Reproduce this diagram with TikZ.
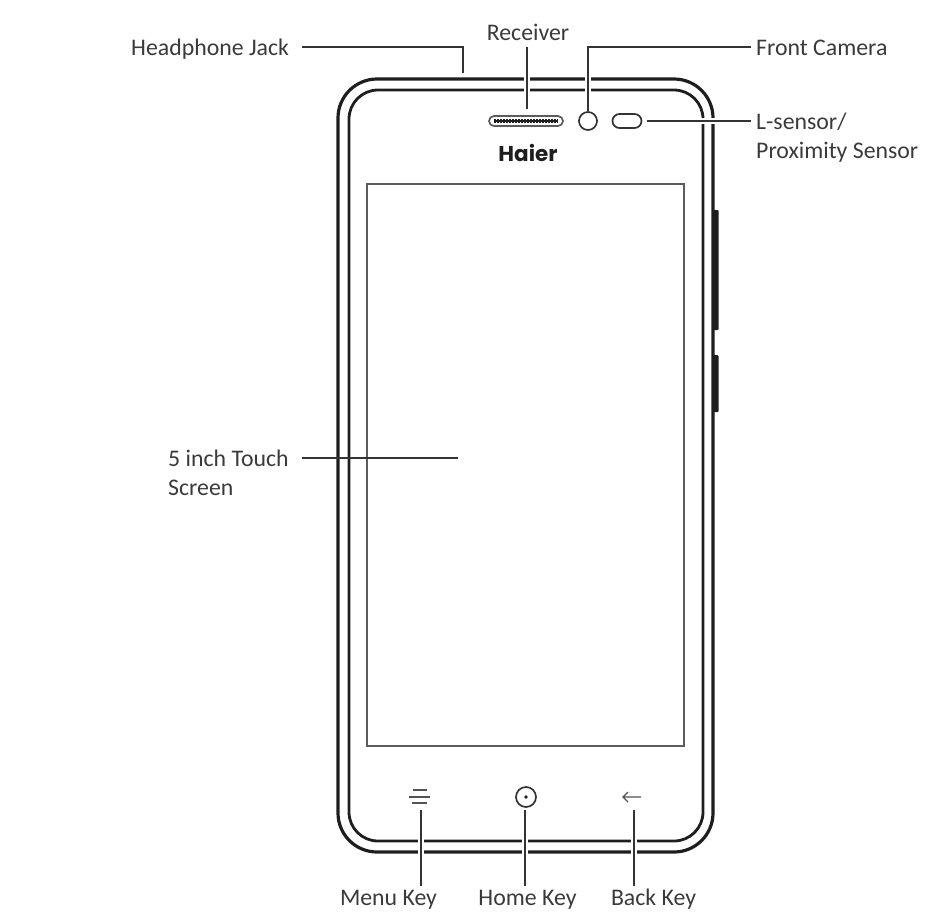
\documentclass[tikz,border=0pt]{standalone}
\usepackage{fontspec}
\setmainfont{Carlito}
\newfontfamily\logofont{Poppins}
\definecolor{ink}{HTML}{1E1E1E}
\definecolor{txt}{HTML}{3A3A3A}
\definecolor{lead}{HTML}{333333}
\tikzset{
  x=1pt,y=-1pt,
  label text/.style={font=\fontsize{23.8}{29.5}\selectfont,text=txt,inner sep=0pt,align=left},
  body line/.style={draw=ink,line width=3.2pt,rounded corners=39pt},
  inner line/.style={draw=ink,line width=2.8pt,rounded corners=29pt},
  leader/.style={draw=lead,line width=1.5pt},
  halo/.style={draw=white,line width=6.5pt},
  part/.style={draw=lead,line width=1.7pt,inner sep=0pt},
}
\begin{document}
\begin{tikzpicture}
\useasboundingbox (0,0) rectangle (929,922);
% side keys
\fill[ink,rounded corners=1pt] (712,210) rectangle (718.5,330);
\fill[ink,rounded corners=1pt] (712,355) rectangle (718.5,412);
% body
\draw[body line] (338,79) rectangle (713,852);
\draw[inner line] (349,90) rectangle (703,841);
% screen
\node[draw=lead!80,line width=1.6pt,minimum width=317pt,minimum height=562pt,inner sep=0pt] (screen) at (525.5,465) {};
% top parts
\node[part,minimum width=74pt,minimum height=10pt,rounded corners=5pt,draw=lead!80,fill=white] (receiver) at (526,121) {};
\draw[ink,line width=4pt,dash pattern=on 2pt off 1pt] (494,121) -- (558,121);
\draw[ink,line width=1.4pt] (494,121) -- (558,121);
\node[part,circle,minimum size=18pt] (camera) at (588,121) {};
\node[part,minimum width=29pt,minimum height=14pt,rounded corners=7pt] (sensor) at (627,121) {};
\node[font=\logofont\bfseries\fontsize{21.5}{24}\selectfont,text=ink,inner sep=0pt] (logo) at (528,153) {Haier};
% bottom keys
\coordinate (menu) at (421,810);
\draw[draw=lead!85,line width=1.3pt] (413,790) -- (427,790) (409,797) -- (430,797) (412,803) -- (427,803);
\node[part,circle,minimum size=20pt] (home) at (526,797) {};
\fill[ink] (home.center) circle (1.8);
\coordinate (back) at (641,797);
\draw[draw=lead!85,line width=1.2pt] (back) -- (623,797) (628,792) -- (623,797) -- (628,802);
\coordinate (backend) at (634,810);
% labels
\node[label text,anchor=base west] (lhead) at (131,55) {Headphone Jack};
\node[label text,anchor=base] (lrecv) at (528,40) {Receiver};
\node[label text,anchor=base west] (lcam) at (756,55) {Front Camera};
\node[label text,anchor=north west] (lsens) at (756,112.5) {L-sensor/\\Proximity Sensor};
\node[label text,anchor=north west] (ltouch) at (168,449.5) {5 inch Touch\\Screen};
\node[label text,anchor=base] (lmenu) at (388.5,905.5) {Menu Key};
\node[label text,anchor=base] (lhome) at (527.5,905.5) {Home Key};
\node[label text,anchor=base] (lback) at (653.5,905.5) {Back Key};
% connector ends
\coordinate (jack) at (463,73);
\coordinate (touch) at (458,458);
\coordinate (recvtop) at (527,47);
\coordinate (recvend) at (527,109);
\coordinate (headstart) at (302,47);
\coordinate (camturn) at (588,47);
\coordinate (camend) at (751,47);
% white breaks where connectors cross the body outline
\foreach \x in {527,588}{\draw[halo] (\x,72) -- (\x,97);}
\foreach \x in {421,525,634}{\draw[halo] (\x,834) -- (\x,859);}
\draw[halo] (696,121) -- (720,121);
% connectors
\draw[leader] (headstart) -| (jack);
\draw[leader] (recvtop) -- (recvend);
\draw[leader] (camera.north) -- (camturn) -- (camend);
\draw[leader] ([xshift=5pt]sensor.east) -- (751,121);
\draw[leader] (302,458) -- (touch);
\draw[leader] (menu) -- (421,886);
\draw[leader] (525,810) -- (525,886);
\draw[leader] (backend) -- (634,886);
\end{tikzpicture}
\end{document}
